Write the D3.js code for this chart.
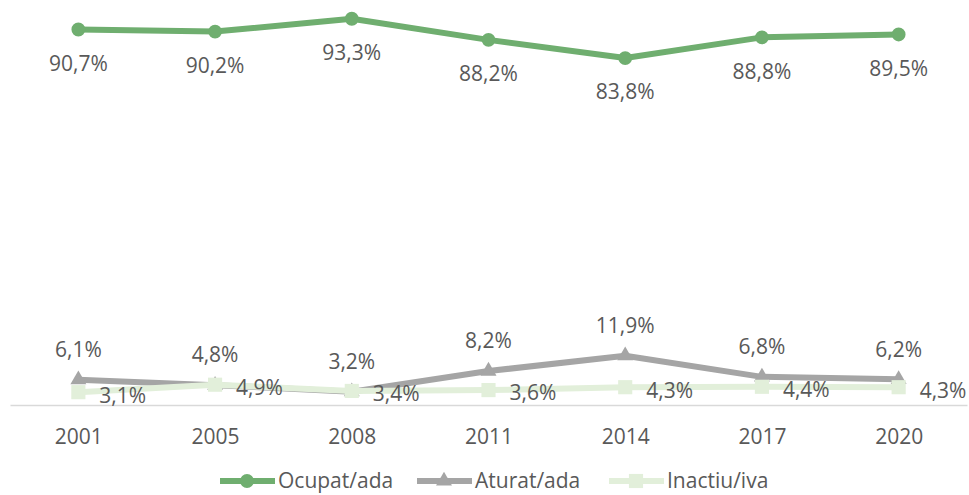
<!DOCTYPE html>
<html lang="pt">
<head>
  <meta charset="UTF-8">
  <title>Ocupat / Aturat / Inactiu</title>
  <script src="https://d3js.org/d3.v7.min.js"></script>
  <style>
    body {
      margin: 0;
      background: #fff;
      font-family: "Open Sans", "Noto Sans", sans-serif;
    }
    .label, .tick text, .legend text {
      fill: #595959;
      font-size: 21px;
    }
  </style>
</head>
<body>
  <svg id="chart" width="969" height="495"></svg>

  <script>
    // Dades
    const years = ["2001", "2005", "2008", "2011", "2014", "2017", "2020"];
    const ocupat = [90.7, 90.2, 93.3, 88.2, 83.8, 88.8, 89.5];
    const aturat = [6.1, 4.8, 3.2, 8.2, 11.9, 6.8, 6.2];
    const inactiu = [3.1, 4.9, 3.4, 3.6, 4.3, 4.4, 4.3];
    const seriesNames = ["Ocupat/ada", "Aturat/ada", "Inactiu/iva"];

    const width = 969;
    const height = 495;
    const baseY = 405;

    const svg = d3.select("#chart");

    const x = d3.scalePoint()
      .domain(years)
      .range([10, 967])
      .padding(0.5);

    const y = d3.scaleLinear()
      .domain([0, 100])
      .range([baseY, -9]);

    const fmt = v => d3.format(".1f")(v).replace(".", ",") + "%";

    // Eix X
    const xAxis = svg.append("g")
      .attr("transform", `translate(0,${baseY})`)
      .call(d3.axisBottom(x).tickSize(0).tickPadding(24));
    xAxis.select(".domain").attr("stroke", "#d9d9d9").attr("stroke-width", 1.5);
    xAxis.selectAll("text").attr("font-family", "Open Sans");

    const series = [
      { name: seriesNames[0], values: ocupat, color: "#6fae6f", marker: d3.symbolCircle, size: 150 },
      { name: seriesNames[1], values: aturat, color: "#a5a5a5", marker: d3.symbolTriangle, size: 110 },
      { name: seriesNames[2], values: inactiu, color: "#e2efda", marker: d3.symbolSquare, size: 200 }
    ];

    const line = d3.line()
      .x((d, i) => x(years[i]))
      .y(d => y(d));

    series.forEach(s => {
      svg.append("path")
        .datum(s.values)
        .attr("fill", "none")
        .attr("stroke", s.color)
        .attr("stroke-width", 6)
        .attr("stroke-linejoin", "round")
        .attr("d", line);

      svg.selectAll(null)
        .data(s.values)
        .enter()
        .append("path")
        .attr("transform", (d, i) => `translate(${x(years[i])},${y(d)})`)
        .attr("d", d3.symbol().type(s.marker).size(s.size))
        .attr("fill", s.color);
    });

    // Etiquetes
    svg.selectAll(".lab-ocupat")
      .data(ocupat)
      .enter()
      .append("text")
      .attr("class", "label")
      .attr("x", (d, i) => x(years[i]))
      .attr("y", d => y(d) + 34)
      .attr("dy", "0.35em")
      .attr("text-anchor", "middle")
      .text(fmt);

    svg.selectAll(".lab-aturat")
      .data(aturat)
      .enter()
      .append("text")
      .attr("class", "label")
      .attr("x", (d, i) => x(years[i]))
      .attr("y", d => y(d) - 30)
      .attr("dy", "0.35em")
      .attr("text-anchor", "middle")
      .text(fmt);

    svg.selectAll(".lab-inactiu")
      .data(inactiu)
      .enter()
      .append("text")
      .attr("class", "label")
      .attr("x", (d, i) => x(years[i]) + 21)
      .attr("y", d => y(d) + 3)
      .attr("dy", "0.35em")
      .text(fmt);

    // Llegenda
    const legendX = [220, 417, 609];
    const legend = svg.append("g").attr("class", "legend");
    series.forEach((s, i) => {
      const g = legend.append("g").attr("transform", `translate(${legendX[i]},481)`);
      g.append("line")
        .attr("x1", 0).attr("x2", 55)
        .attr("stroke", s.color)
        .attr("stroke-width", 6);
      g.append("path")
        .attr("transform", "translate(27,0)")
        .attr("d", d3.symbol().type(s.marker).size(s.size))
        .attr("fill", s.color);
      g.append("text")
        .attr("x", 58)
        .attr("dy", "0.35em")
        .text(s.name);
    });
  </script>
</body>
</html>
